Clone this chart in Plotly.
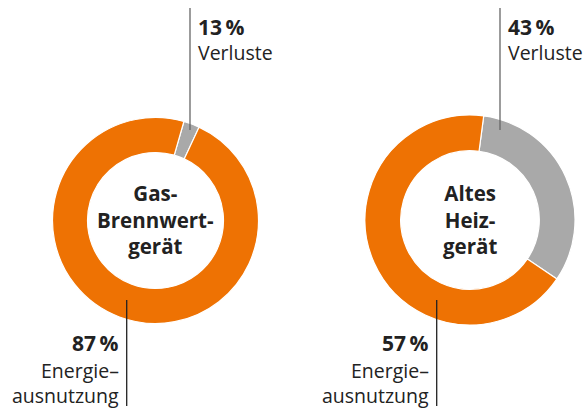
import plotly.graph_objects as go

# ---- data ----
devices = ["Gas-Brennwertgerät", "Altes Heizgerät"]
center_labels = ["Gas-<br>Brennwert-<br>gerät", "Altes<br>Heiz-<br>gerät"]
loss_pct_text = [13, 43]          # printed percentages (Verluste)
use_pct_text = [87, 57]           # printed percentages (Energieausnutzung)
loss_share_drawn = [2.5, 32.4]    # grey slice share as drawn (%)
use_share_drawn = [97.5, 67.6]    # orange slice share as drawn (%)
slice_labels = ["Verluste", "Energieausnutzung"]

W, H = 587, 409
ORANGE = "#EE7203"
GREY = "#A9A9A9"
TXT = "#222222"
FONT = "Open Sans"

def px(x):
    return x / W

def py(y):
    return 1 - y / H

# layout geometry (pixels)
centers = [(155.5, 220.5), (470.0, 220.0)]
radii = [103, 105]
rotations = [16, 7.5]
top_line_x = [190, 500]
bot_line_x = [126.7, 436.7]

fig = go.Figure()
for i in range(2):
    cx, cy = centers[i]
    r = radii[i]
    fig.add_trace(go.Pie(
        labels=slice_labels,
        values=[loss_share_drawn[i], use_share_drawn[i]],
        hole=0.66,
        sort=False,
        direction="clockwise",
        rotation=rotations[i],
        marker=dict(colors=[GREY, ORANGE], line=dict(color="white", width=1.2)),
        textinfo="none",
        hoverinfo="label+percent",
        showlegend=False,
        domain=dict(x=[px(cx - r), px(cx + r)], y=[py(cy + r), py(cy - r)]),
        name=devices[i],
    ))

    # center label
    fig.add_annotation(x=px(cx), y=py(cy - 1), xref="paper", yref="paper",
                       text="<b>" + center_labels[i] + "</b>", showarrow=False,
                       font=dict(family=FONT, size=20.5, color=TXT),
                       align="center", xanchor="center", yanchor="middle")

    # top leader line + labels
    tx = top_line_x[i]
    fig.add_shape(type="line", xref="paper", yref="paper",
                  x0=px(tx), x1=px(tx), y0=py(8), y1=py(130),
                  line=dict(color="#666666", width=1.3))
    fig.add_annotation(x=px(tx + 6), y=py(27), xref="paper", yref="paper",
                       text="<b>%d\u2009%%</b>" % loss_pct_text[i], showarrow=False,
                       font=dict(family=FONT, size=21, color=TXT),
                       xanchor="left", yanchor="middle")
    fig.add_annotation(x=px(tx + 6), y=py(53), xref="paper", yref="paper",
                       text="Verluste", showarrow=False,
                       font=dict(family=FONT, size=19.5, color=TXT),
                       xanchor="left", yanchor="middle")

    # bottom leader line + labels
    bx = bot_line_x[i]
    fig.add_shape(type="line", xref="paper", yref="paper",
                  x0=px(bx), x1=px(bx), y0=py(300), y1=py(406),
                  line=dict(color="#222222", width=1.3))
    fig.add_annotation(x=px(bx - 6), y=py(343), xref="paper", yref="paper",
                       text="<b>%d\u2009%%</b>" % use_pct_text[i], showarrow=False,
                       font=dict(family=FONT, size=21, color=TXT),
                       xanchor="right", yanchor="middle")
    fig.add_annotation(x=px(bx - 6), y=py(370), xref="paper", yref="paper",
                       text="Energie\u2013", showarrow=False,
                       font=dict(family=FONT, size=19.5, color=TXT),
                       xanchor="right", yanchor="middle")
    fig.add_annotation(x=px(bx - 6), y=py(395), xref="paper", yref="paper",
                       text="ausnutzung", showarrow=False,
                       font=dict(family=FONT, size=19.5, color=TXT),
                       xanchor="right", yanchor="middle")

fig.update_layout(width=W, height=H, margin=dict(l=0, r=0, t=0, b=0),
                  paper_bgcolor="white", plot_bgcolor="white")
fig.write_html("out.html", config={"displayModeBar": False},
               post_script="document.body.style.margin='0';document.body.style.overflow='hidden';")
